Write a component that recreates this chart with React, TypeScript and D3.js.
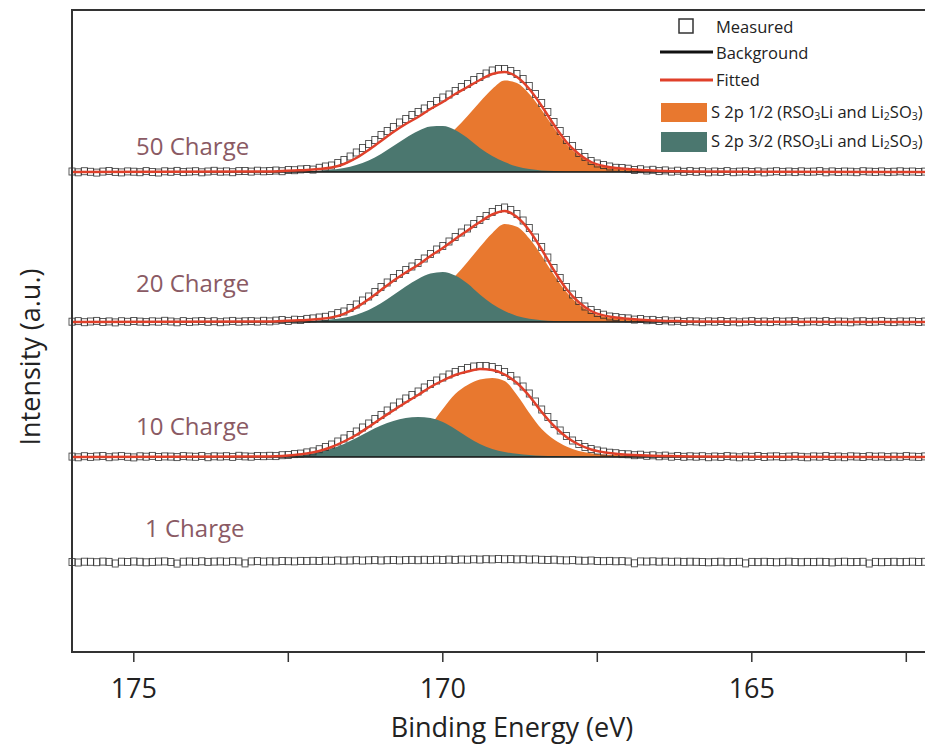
import React from "react";
import * as d3 from "d3";

// ---------- DATA ----------
const xTicks = [175, 172.5, 170, 167.5, 165, 162.5];
const xTickLabels = ["175", "", "170", "", "165", ""];
const seriesNames = ["50 Charge", "20 Charge", "10 Charge", "1 Charge"];
const seriesOffsets = [480, 330, 195, 90];
const legendLabels = ["Measured", "Background", "Fitted", "S 2p 1/2", "S 2p 3/2"];

// measured: 176.0 eV down to 162.2 eV, 0.1 eV steps
const measured50 = [
  0.5, -0.3, 0.8, 0.2, -0.6, 0.4, 1.0, 0.1, -0.4, 0.6, 0.3, -0.2, 0.9, 0.0, -0.5, 0.7, 0.2, 1.1, -0.1, 0.4, 0.8, -0.3, 0.5, 1.2, 0.3, 0.6, -0.2, 0.9, 1.0, 0.4, 1.3, 0.7,
  1.0, 1.5, 0.8, 2.0, 1.8, 2.6, 3.0, 2.4, 4.2, 5.5, 6.5, 9.0, 12, 15.5, 19.5, 24, 28, 32, 37, 41, 45, 49.5, 53, 57, 60, 63.5, 67, 71, 74.5, 77.5, 81, 85, 88, 92, 95, 98.5, 101.5, 103, 103, 101, 98, 93, 86, 78, 69, 60, 50, 41, 32, 26, 19, 15, 11, 8.5, 7, 5.5, 4.2, 4.0, 3.3, 2.0, 2.8, 1.5, 2.2, 0.9, 1.6, 0.4, 1.3, 0.2, 0.9,
  0.2, 0.8, -0.3, 0.5, 0.1, 0.9, -0.2, 0.4, 0.7, 0.0, 0.6, -0.4, 0.3, 0.8, 0.1, 0.5, -0.1, 0.7, 0.2, 0.4, 0.9, -0.3, 0.6, 0.0, 0.5, 0.3, -0.2, 0.8, 0.4, 0.1, 0.6, -0.1, 0.3, 0.7, 0.2, 0.5, 0.0, 0.4,
];
const measured20 = [
  0.3, 0.9, -0.2, 0.5, 1.1, 0.0, 0.6, -0.4, 0.8, 0.2, 1.0, 0.4, -0.1, 0.7, 0.3, 1.2, 0.5, -0.3, 0.9, 0.1, 0.6, 1.0, 0.2, 0.8, -0.2, 0.5, 1.1, 0.3, 0.7, 0.9, 0.4, 1.2,
  0.6, 1.4, 2.0, 1.1, 2.3, 2.0, 3.1, 3.6, 4.5, 5.2, 6.8, 8.9, 10.5, 14, 17.5, 21.5, 25.5, 30, 35, 39.5, 44, 48, 52, 55.5, 59, 63.5, 68, 72.5, 76, 80.5, 85, 89.5, 93.5, 98, 102, 106, 110, 113, 114.5, 112, 108, 101.5, 94, 84.5, 75, 64.5, 54, 44, 35, 27.5, 21, 15.5, 12, 9, 7.3, 5.5, 4.9, 3.9, 3.6, 2.4, 3.0, 1.8, 2.1, 1.0, 1.7, 0.6, 1.2, 0.1, 0.8,
  0.5, -0.2, 0.7, 0.3, 1.0, 0.0, 0.6, -0.3, 0.4, 0.9, 0.1, 0.5, -0.1, 0.8, 0.3, 0.6, 1.0, -0.2, 0.4, 0.7, 0.2, 0.9, 0.0, 0.5, 0.3, -0.3, 0.6, 0.8, 0.1, 0.4, 0.9, 0.2, -0.1, 0.6, 0.3, 0.7, 0.0, 0.5,
];
const measured10 = [
  0.4, -0.3, 0.8, 0.1, 0.6, 1.0, -0.2, 0.5, 0.9, 0.2, -0.4, 0.7, 0.3, 1.1, 0.0, 0.6, 0.4, -0.1, 0.9, 0.5, 0.2, 1.0, -0.2, 0.7, 0.4, 0.8, 0.1, 1.2, 0.6, 0.3, 1.0, 0.8,
  1.2, 0.9, 1.8, 2.0, 2.9, 3.4, 4.6, 5.6, 7.8, 10.0, 12.5, 15.5, 18.5, 22, 25.5, 29.5, 33.5, 38, 42, 46.5, 50.5, 54.5, 58.5, 62, 65.5, 69.5, 73, 76.5, 79.5, 82.5, 85, 87, 89, 90.5, 91, 91, 90, 88, 85, 81, 76.5, 70.5, 63.5, 55.5, 47.5, 40, 33, 26.5, 21, 16.5, 13, 10, 8, 6.5, 5.4, 4.3, 3.8, 2.9, 2.7, 1.8, 2.3, 1.2, 1.7, 0.7, 1.4, 0.3, 1.0, 0.2, 0.7,
  0.3, 0.8, -0.2, 0.5, 0.1, 0.9, 0.4, -0.3, 0.6, 0.2, 1.0, 0.0, 0.5, 0.7, -0.1, 0.4, 0.8, 0.2, -0.3, 0.6, 0.3, 0.9, 0.1, 0.5, -0.2, 0.7, 0.4, 0.0, 0.8, 0.3, 0.6, -0.1, 0.5, 0.2, 0.9, 0.4, 0.1, 0.6,
];
const measured1 = [
  0.0, -0.5, 0.3, 0.2, -0.2, 0.4, 0.1, -1.5, 0.3, 0.0, 0.5, 0.2, -0.3, 0.1, 0.4, 0.6, 0.0, -1.6, 0.3, 0.5, 0.2, 0.7, 0.1, 0.4, 0.6, 0.3, 0.8, 0.5, -1.4, 0.6, 0.9, 0.4,
  0.7, 0.5, 1.0, 0.8, 0.6, 1.1, 0.9, 1.2, 1.0, 1.4, 1.2, 1.6, 1.3, 1.5, 1.8, 1.4, 1.7, 1.9, 1.5, 1.8, 2.0, 1.6, 1.9, 2.1, 1.8, 2.2, 1.9, 2.3, 2.0, 2.4, 2.1, 2.5, 2.3, 2.7, 2.4, 2.8, 2.6, 3.0, 2.7, 2.9, 2.6, 2.8, 2.4, 2.6, 2.2, 2.0, 2.3, 1.8, 1.6, 1.9, 1.4, 1.2, 1.5, 1.0, 0.8, 1.1, 0.7, 0.9, 0.5, -1.3, 0.6, 0.4, 0.7, 0.3, 0.5, 0.2, 0.4, 0.1, 0.3,
  0.2, 0.0, -0.3, 0.1, 0.3, -0.2, 0.0, 0.2, -1.4, 0.1, -0.1, 0.2, 0.0, -0.3, 0.1, 0.3, 0.0, -0.2, 0.1, -0.1, 0.2, 0.0, -0.4, 0.1, 0.3, -0.1, 0.0, 0.2, -1.5, 0.1, -0.2, 0.0, 0.2, -0.1, 0.1, 0.3, 0.0, 0.2,
];

// fit components: 172.8 eV down to 166.0 eV, 0.2 eV steps
const fitted50 = [0.5, 1, 1.5, 2, 3, 4.5, 8, 14, 22, 31, 40, 48, 55, 63, 70, 78, 85, 92, 98, 100, 95, 83, 66, 47, 30, 18, 10, 6, 4, 3, 2, 1.5, 1, 0.8, 0.5];
const orange50 = [0, 0.3, 0.5, 0.7, 0.9, 1.2, 1.6, 2.2, 3.2, 4.8, 7.5, 11.5, 17, 24, 32, 43, 56, 70, 83, 91.5, 89, 78, 62, 44, 28, 16.5, 9, 5.2, 3.5, 2.6, 1.8, 1.3, 0.9, 0.6, 0.3];
const teal50 = [0, 0.3, 0.5, 0.8, 1.3, 2.2, 4, 7, 11.5, 18, 26, 34, 41, 45.5, 46, 42, 34, 24, 16, 10, 5.5, 3, 1.6, 1, 0.6, 0.4, 0.3, 0.2, 0.2, 0.1, 0.1, 0.1, 0, 0, 0];

const fitted20 = [0.5, 1, 1.5, 2, 3, 4.6, 8.2, 14.4, 22.7, 32, 41.2, 49.5, 57, 66, 74, 83, 91.5, 100, 107.5, 111, 105, 91.5, 72.5, 51.5, 33, 19.8, 11, 6.6, 4.4, 3.3, 2.2, 1.6, 1.1, 0.9, 0.5];
const orange20 = [0, 0.3, 0.5, 0.7, 1, 1.3, 1.7, 2.4, 3.4, 5.1, 8, 12.3, 18.2, 25.7, 34.2, 46, 60, 75, 88.8, 97.9, 95.2, 83.5, 66.3, 47, 30, 17.7, 9.6, 5.6, 3.7, 2.8, 1.9, 1.4, 1, 0.6, 0.3];
const teal20 = [0, 0.3, 0.5, 0.9, 1.4, 2.4, 4.2, 7.3, 12, 18.8, 27, 35.5, 43, 48.5, 50, 46.5, 38.5, 27.5, 18, 11, 6, 3.3, 1.8, 1.1, 0.7, 0.4, 0.3, 0.2, 0.2, 0.1, 0.1, 0.1, 0, 0, 0];

const fitted10 = [0.5, 1, 2, 3.5, 6, 10, 15.5, 22, 30, 38.5, 46.5, 54.5, 62, 70, 76.5, 82, 85.5, 88, 87, 82.5, 74, 61, 45, 31, 20, 12.5, 7.5, 4.8, 3.2, 2.3, 1.7, 1.3, 1, 0.7, 0.5];
const orange10 = [0, 0.3, 0.5, 0.8, 1.1, 1.6, 2.2, 3, 4.2, 6.2, 9.5, 14.5, 22, 32, 48, 63, 72, 77.5, 79, 76, 62, 44, 28, 17.5, 10.5, 6, 3.8, 2.6, 1.9, 1.4, 1.1, 0.8, 0.6, 0.4, 0.2];
const teal10 = [0, 0.8, 1.5, 2.8, 5, 8.5, 13, 19, 25.5, 31.5, 36, 39, 40, 39, 35, 28, 20, 13, 8, 5, 3.2, 2, 1.3, 0.9, 0.6, 0.4, 0.3, 0.2, 0.1, 0.1, 0, 0, 0, 0, 0];

// ---------- CHART ----------
const W = 925;
const H = 744;
const FONT = "'Open Sans', 'Noto Sans', sans-serif";
const ORANGE = "#E8782F";
const TEAL = "#4B776F";
const RED = "#E0402A";
const LABEL_COLOR = "#8A5A64";

function Formula({ x, y, prefix }: { x: number; y: number; prefix: string }) {
  return (
    <text x={x} y={y}>
      {prefix} (RSO<tspan fontSize={10.5} dy={2}>3</tspan>
      <tspan dy={-2}>Li and Li</tspan>
      <tspan fontSize={10.5} dy={2}>2</tspan>
      <tspan dy={-2}>SO</tspan>
      <tspan fontSize={10.5} dy={2}>3</tspan>
      <tspan dy={-2}>)</tspan>
    </text>
  );
}

export default function App() {
  const x = d3.scaleLinear().domain([176, 162]).range([72, 937.2]);
  const y = d3.scaleLinear().domain([0, 642]).range([652, 10]);
  const fitEnergy = d3.range(35).map((i) => 172.8 - 0.2 * i);
  const measEnergy = (i: number) => 176 - 0.1 * i;

  const series = [
    { name: seriesNames[0], off: seriesOffsets[0], meas: measured50, fit: fitted50, orange: orange50, teal: teal50 },
    { name: seriesNames[1], off: seriesOffsets[1], meas: measured20, fit: fitted20, orange: orange20, teal: teal20 },
    { name: seriesNames[2], off: seriesOffsets[2], meas: measured10, fit: fitted10, orange: orange10, teal: teal10 },
    { name: seriesNames[3], off: seriesOffsets[3], meas: measured1, fit: null, orange: null, teal: null },
  ];
  const labelPos = [
    { x: 136, dy: 17 },
    { x: 136, dy: 30 },
    { x: 136, dy: 22 },
    { x: 145, dy: 25 },
  ];

  const areaFor = (off: number) =>
    d3
      .area<number>()
      .x((_, i) => x(fitEnergy[i]))
      .y0(y(off))
      .y1((d) => y(off + d))
      .curve(d3.curveMonotoneX);

  const lineFor = (off: number) =>
    d3
      .line<[number, number]>()
      .x((d) => x(d[0]))
      .y((d) => y(off + d[1]))
      .curve(d3.curveMonotoneX);

  const axisY = 652;

  return (
    <div style={{ position: "absolute", left: 0, top: 0, width: W, height: H, overflow: "hidden", background: "#fff" }}>
      <svg width={W} height={H} style={{ display: "block", fontFamily: FONT }}>
        <rect x={0} y={0} width={W} height={H} fill="#fff" />
        {series.map((s, si) => {
          const baseY = y(s.off);
          const fitPts: [number, number][] = s.fit
            ? [[176, 0], ...fitEnergy.map((e, i) => [e, s.fit![i]] as [number, number]), [162, 0]]
            : [];
          return (
            <g key={si}>
              {s.orange && <path d={areaFor(s.off)(s.orange) || ""} fill={ORANGE} />}
              {s.teal && <path d={areaFor(s.off)(s.teal) || ""} fill={TEAL} />}
              {s.fit && <line x1={x(176)} x2={x(162)} y1={baseY} y2={baseY} stroke="#111" strokeWidth={1.5} />}
              {s.meas.map((v, i) => (
                <rect
                  key={i}
                  x={x(measEnergy(i)) - 3}
                  y={y(s.off + v) - 3.5}
                  width={6}
                  height={7}
                  fill="none"
                  stroke="#2a2a2a"
                  strokeWidth={0.9}
                  opacity={0.85}
                />
              ))}
              {s.fit && <path d={lineFor(s.off)(fitPts) || ""} fill="none" stroke={RED} strokeWidth={2.5} />}
              <text x={labelPos[si].x} y={y(s.off + labelPos[si].dy)} fontSize={24} fill={LABEL_COLOR}>
                {s.name}
              </text>
            </g>
          );
        })}

        {/* frame */}
        <path d={`M${W + 20},10 H72 V${axisY} H${W + 20}`} fill="none" stroke="#333" strokeWidth={2} />

        {/* x ticks */}
        {xTicks.map((t, i) => (
          <g key={t}>
            <line x1={x(t)} x2={x(t)} y1={axisY} y2={axisY + 10} stroke="#333" strokeWidth={1.5} />
            {xTickLabels[i] && (
              <text x={x(t)} y={698} textAnchor="middle" fontSize={27} fill="#222">
                {xTickLabels[i]}
              </text>
            )}
          </g>
        ))}
        <text x={512} y={737} textAnchor="middle" fontSize={27} fill="#222">
          Binding Energy (eV)
        </text>
        <text transform={`translate(40,357) rotate(-90)`} textAnchor="middle" fontSize={27} fill="#222">
          Intensity (a.u.)
        </text>

        {/* legend */}
        <g fontSize={16.5} fill="#222">
          <rect x={679} y={19} width={14} height={14} fill="none" stroke="#333" strokeWidth={1.5} />
          <text x={716} y={33}>{legendLabels[0]}</text>
          <line x1={660} x2={713} y1={52} y2={52} stroke="#111" strokeWidth={3} />
          <text x={716} y={59}>{legendLabels[1]}</text>
          <line x1={660} x2={713} y1={80} y2={80} stroke={RED} strokeWidth={3} />
          <text x={716} y={86}>{legendLabels[2]}</text>
          <rect x={661} y={103} width={46} height={19} fill={ORANGE} />
          <Formula x={711} y={118} prefix={legendLabels[3]} />
          <rect x={661} y={132} width={46} height={20} fill={TEAL} />
          <Formula x={711} y={147} prefix={legendLabels[4]} />
        </g>
      </svg>
    </div>
  );
}
